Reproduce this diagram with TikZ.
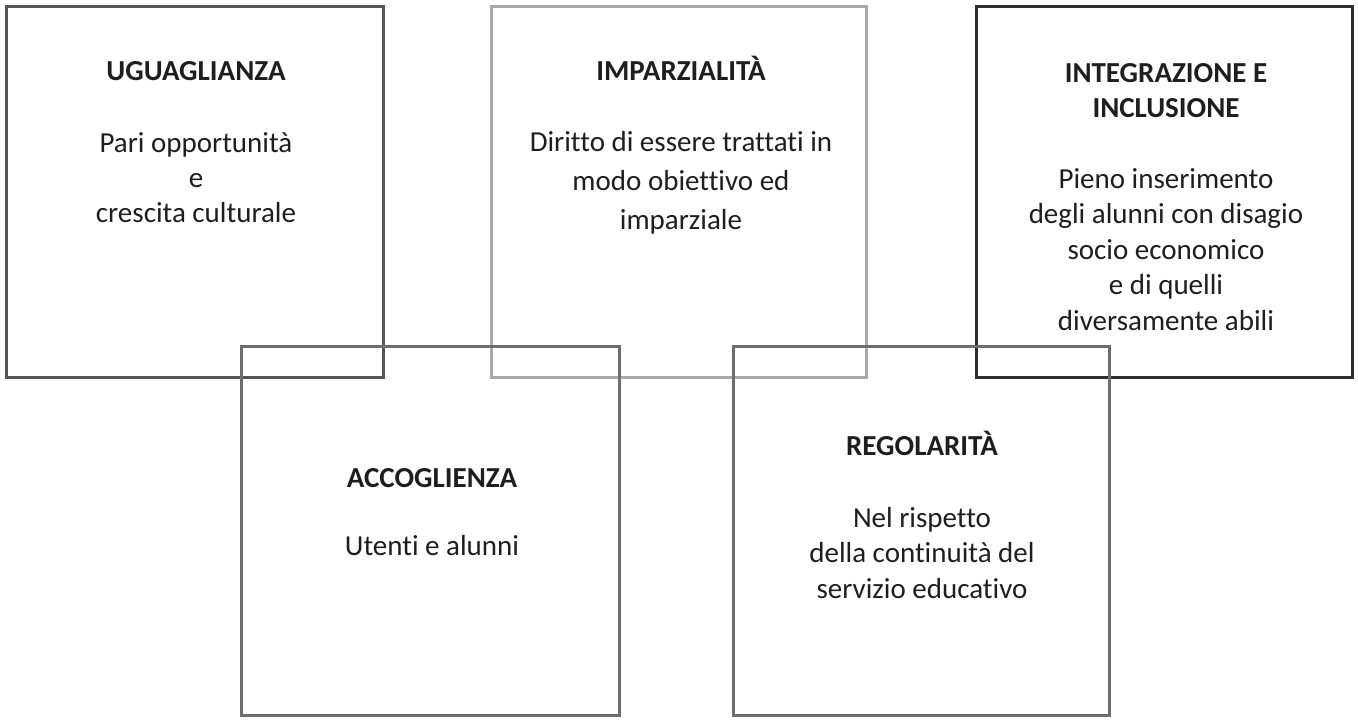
\documentclass[tikz,border=0pt]{standalone}
\usepackage{fontspec}
\setmainfont{Carlito}[Ligatures=NoCommon]
\definecolor{scuro}{HTML}{2E2E2E}
\definecolor{medio}{HTML}{555555}
\definecolor{grigio}{HTML}{6E6E6E}
\definecolor{chiaro}{HTML}{A8A8A8}
\definecolor{scritta}{HTML}{1E1E1E}
\begin{document}
\begin{tikzpicture}[x=1pt,y=-1pt,
    riquadro/.style={draw=#1, line width=3pt, inner sep=0pt,
      minimum width=377pt, minimum height=371pt},
    titolo/.style={font=\fontsize{29}{35}\selectfont\bfseries, text=scritta,
      anchor=base, align=center, inner sep=0pt},
    corpo/.style={font=\fontsize{29}{#1}\selectfont, text=scritta,
      anchor=base, align=center, inner sep=0pt}]
  \useasboundingbox (0,0) rectangle (1358,720);
  \node [riquadro=medio] (ugu) at (194.5,191.5) {};
  \node [riquadro=chiaro, minimum width=375pt] (imp) at (678.5,191.5) {};
  \node [riquadro=scuro, minimum width=376pt] (int) at (1164,191.5) {};
  \node [riquadro=grigio, minimum width=378pt, minimum height=369pt] (acc) at (430,530.5) {};
  \node [riquadro=grigio, minimum width=376pt, minimum height=369pt] (reg) at (921,530.5) {};

  \node [titolo] (ugut) at (196,80) {UGUAGLIANZA};
  \node [corpo=35] (ugub) at (196,222) {Pari opportunità\\e\\crescita culturale};
  \node [titolo] (impt) at (681,80) {IMPARZIALITÀ};
  \node [corpo=39] (impb) at (681,229) {Diritto di essere trattati in\\modo obiettivo ed\\imparziale};
  \node [titolo] (intt) at (1166,117) {INTEGRAZIONE E\\INCLUSIONE};
  \node [corpo=35.5] (intb) at (1166,330) {Pieno inserimento\\degli alunni con disagio\\socio economico\\e di quelli\\diversamente abili};
  \node [titolo] (acct) at (432,487) {ACCOGLIENZA};
  \node [corpo=35] (accb) at (432,555) {Utenti e alunni};
  \node [titolo] (regt) at (922,455) {REGOLARITÀ};
  \node [corpo=35.5] (regb) at (922,598) {Nel rispetto\\della continuità del\\servizio educativo};
\end{tikzpicture}
\end{document}
